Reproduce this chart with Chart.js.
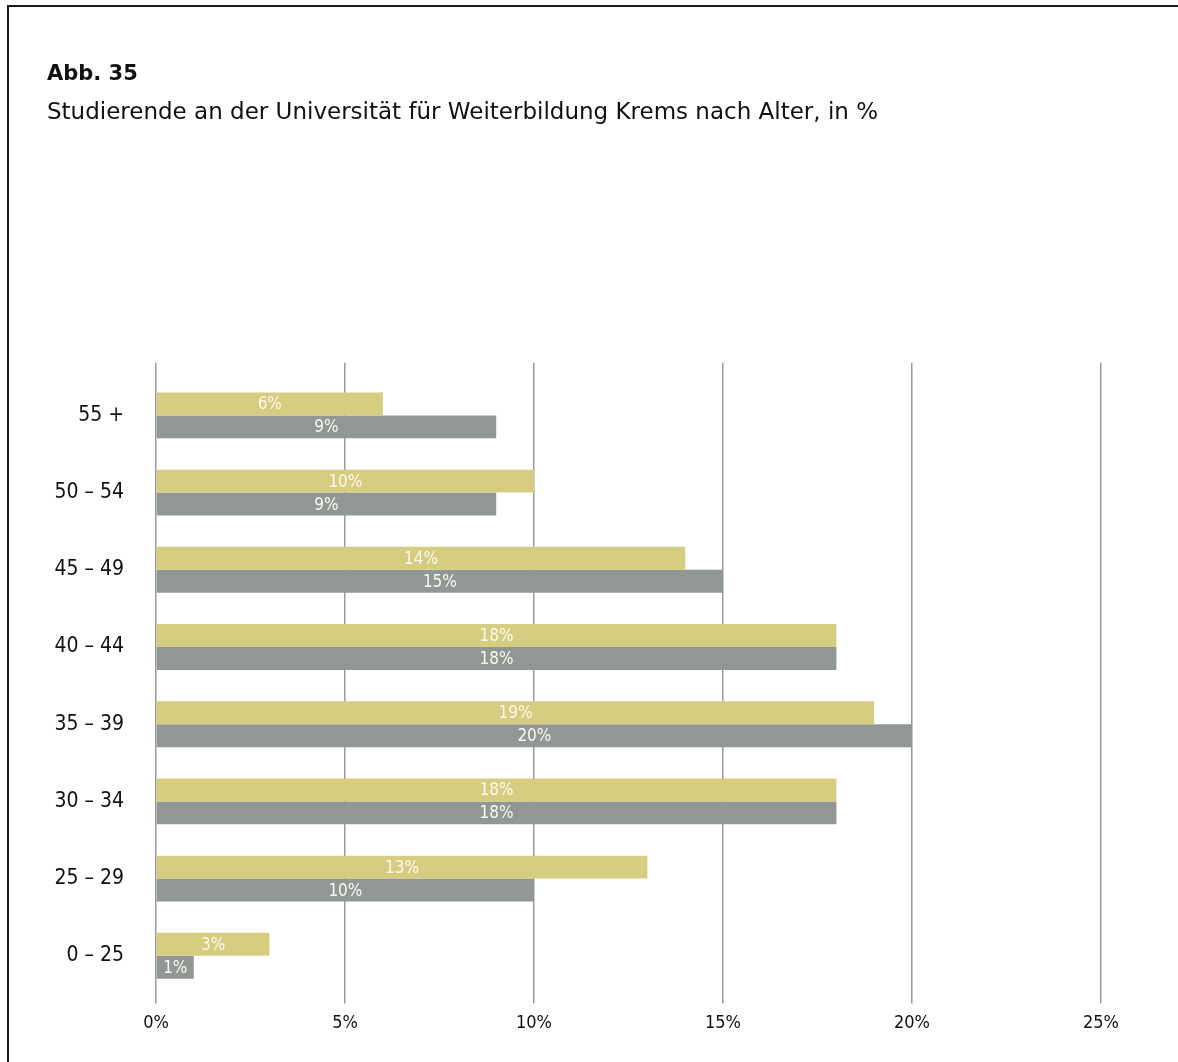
<!DOCTYPE html>
<html lang="de">
<head>
<meta charset="utf-8">
<title>Abb. 35</title>
<script src="https://cdn.jsdelivr.net/npm/chart.js@4/dist/chart.umd.min.js"></script>
<style>
  html, body { margin: 0; padding: 0; background: #fff; }
  #frame {
    position: absolute; left: 7px; top: 5px; width: 1300px; height: 1200px;
    border-top: 2px solid #1a1a1a; border-left: 2px solid #1a1a1a;
  }
  #wrap { position: absolute; left: 0; top: 0; width: 1178px; height: 1062px; }
</style>
</head>
<body>
<div id="frame"></div>
<div id="wrap"><canvas id="ageChart" width="1178" height="1062"></canvas></div>
<script>
  // Altersgruppen, von oben nach unten
  const ageGroups = ['55 +', '50 – 54', '45 – 49', '40 – 44', '35 – 39', '30 – 34', '25 – 29', '0 – 25'];
  // Anteile in % (obere Balken / untere Balken)
  const shareA = [6, 10, 14, 18, 19, 18, 13, 3];
  const shareB = [9, 9, 15, 18, 20, 18, 10, 1];
  const xTicks = [0, 5, 10, 15, 20, 25];

  const condensed = '"Liberation Sans Narrow", "DejaVu Sans Condensed", "Roboto", sans-serif';
  const headFont = '"DejaVu Sans", "Liberation Sans", sans-serif';
  const gridGray = '#9a9a9a';

  // Prozentwert mittig in jeden Balken schreiben
  const barValueLabels = {
    id: 'barValueLabels',
    afterDatasetsDraw(chart) {
      const ctx = chart.ctx;
      ctx.save();
      ctx.font = '17px ' + condensed;
      ctx.fillStyle = '#fbf9ef';
      ctx.textAlign = 'center';
      ctx.textBaseline = 'middle';
      chart.data.datasets.forEach((ds, i) => {
        chart.getDatasetMeta(i).data.forEach((bar, j) => {
          const p = bar.getProps(['x', 'y', 'base'], true);
          ctx.fillText(ds.data[j] + '%', (p.x + p.base) / 2, p.y + 1);
        });
      });
      ctx.restore();
    }
  };

  new Chart(document.getElementById('ageChart'), {
    type: 'bar',
    data: {
      labels: ageGroups,
      datasets: [
        { label: 'A', data: shareA, backgroundColor: '#d6cd80' },
        { label: 'B', data: shareB, backgroundColor: '#909795' }
      ]
    },
    options: {
      indexAxis: 'y',
      responsive: false,
      animation: false,
      categoryPercentage: 0.595,
      barPercentage: 1,
      layout: { padding: { left: 47, right: 77, top: 0, bottom: 19 } },
      plugins: {
        legend: { display: false },
        tooltip: { enabled: false },
        title: {
          display: true,
          text: 'Abb. 35',
          align: 'start',
          color: '#111',
          font: { family: headFont, size: 21, weight: 'bold' },
          padding: { top: 62, bottom: 12 }
        },
        subtitle: {
          display: true,
          text: 'Studierende an der Universität für Weiterbildung Krems nach Alter, in %',
          align: 'start',
          color: '#111',
          font: { family: headFont, size: 23 },
          padding: { top: 0, bottom: 236 }
        }
      },
      scales: {
        x: {
          min: 0,
          max: 25,
          afterBuildTicks: (scale) => { scale.ticks = xTicks.map(v => ({ value: v })); },
          border: { display: false },
          grid: { color: gridGray, lineWidth: 1.5, tickLength: 9, tickColor: gridGray },
          ticks: {
            color: '#111',
            padding: 9,
            font: { family: condensed, size: 18 },
            callback: (v) => v + '%'
          }
        },
        xTop: {
          type: 'linear',
          position: 'top',
          min: 0,
          max: 25,
          afterBuildTicks: (scale) => { scale.ticks = xTicks.map(v => ({ value: v })); },
          border: { display: false },
          grid: { drawOnChartArea: false, tickLength: 14, tickColor: gridGray, lineWidth: 1.5 },
          ticks: { display: false }
        },
        y: {
          border: { display: false },
          grid: { display: false, drawTicks: false },
          afterFit: (scale) => { scale.width = 109; },
          ticks: {
            color: '#111',
            padding: 32,
            font: { family: condensed, size: 21 }
          }
        }
      }
    },
    plugins: [barValueLabels]
  });
</script>
</body>
</html>
